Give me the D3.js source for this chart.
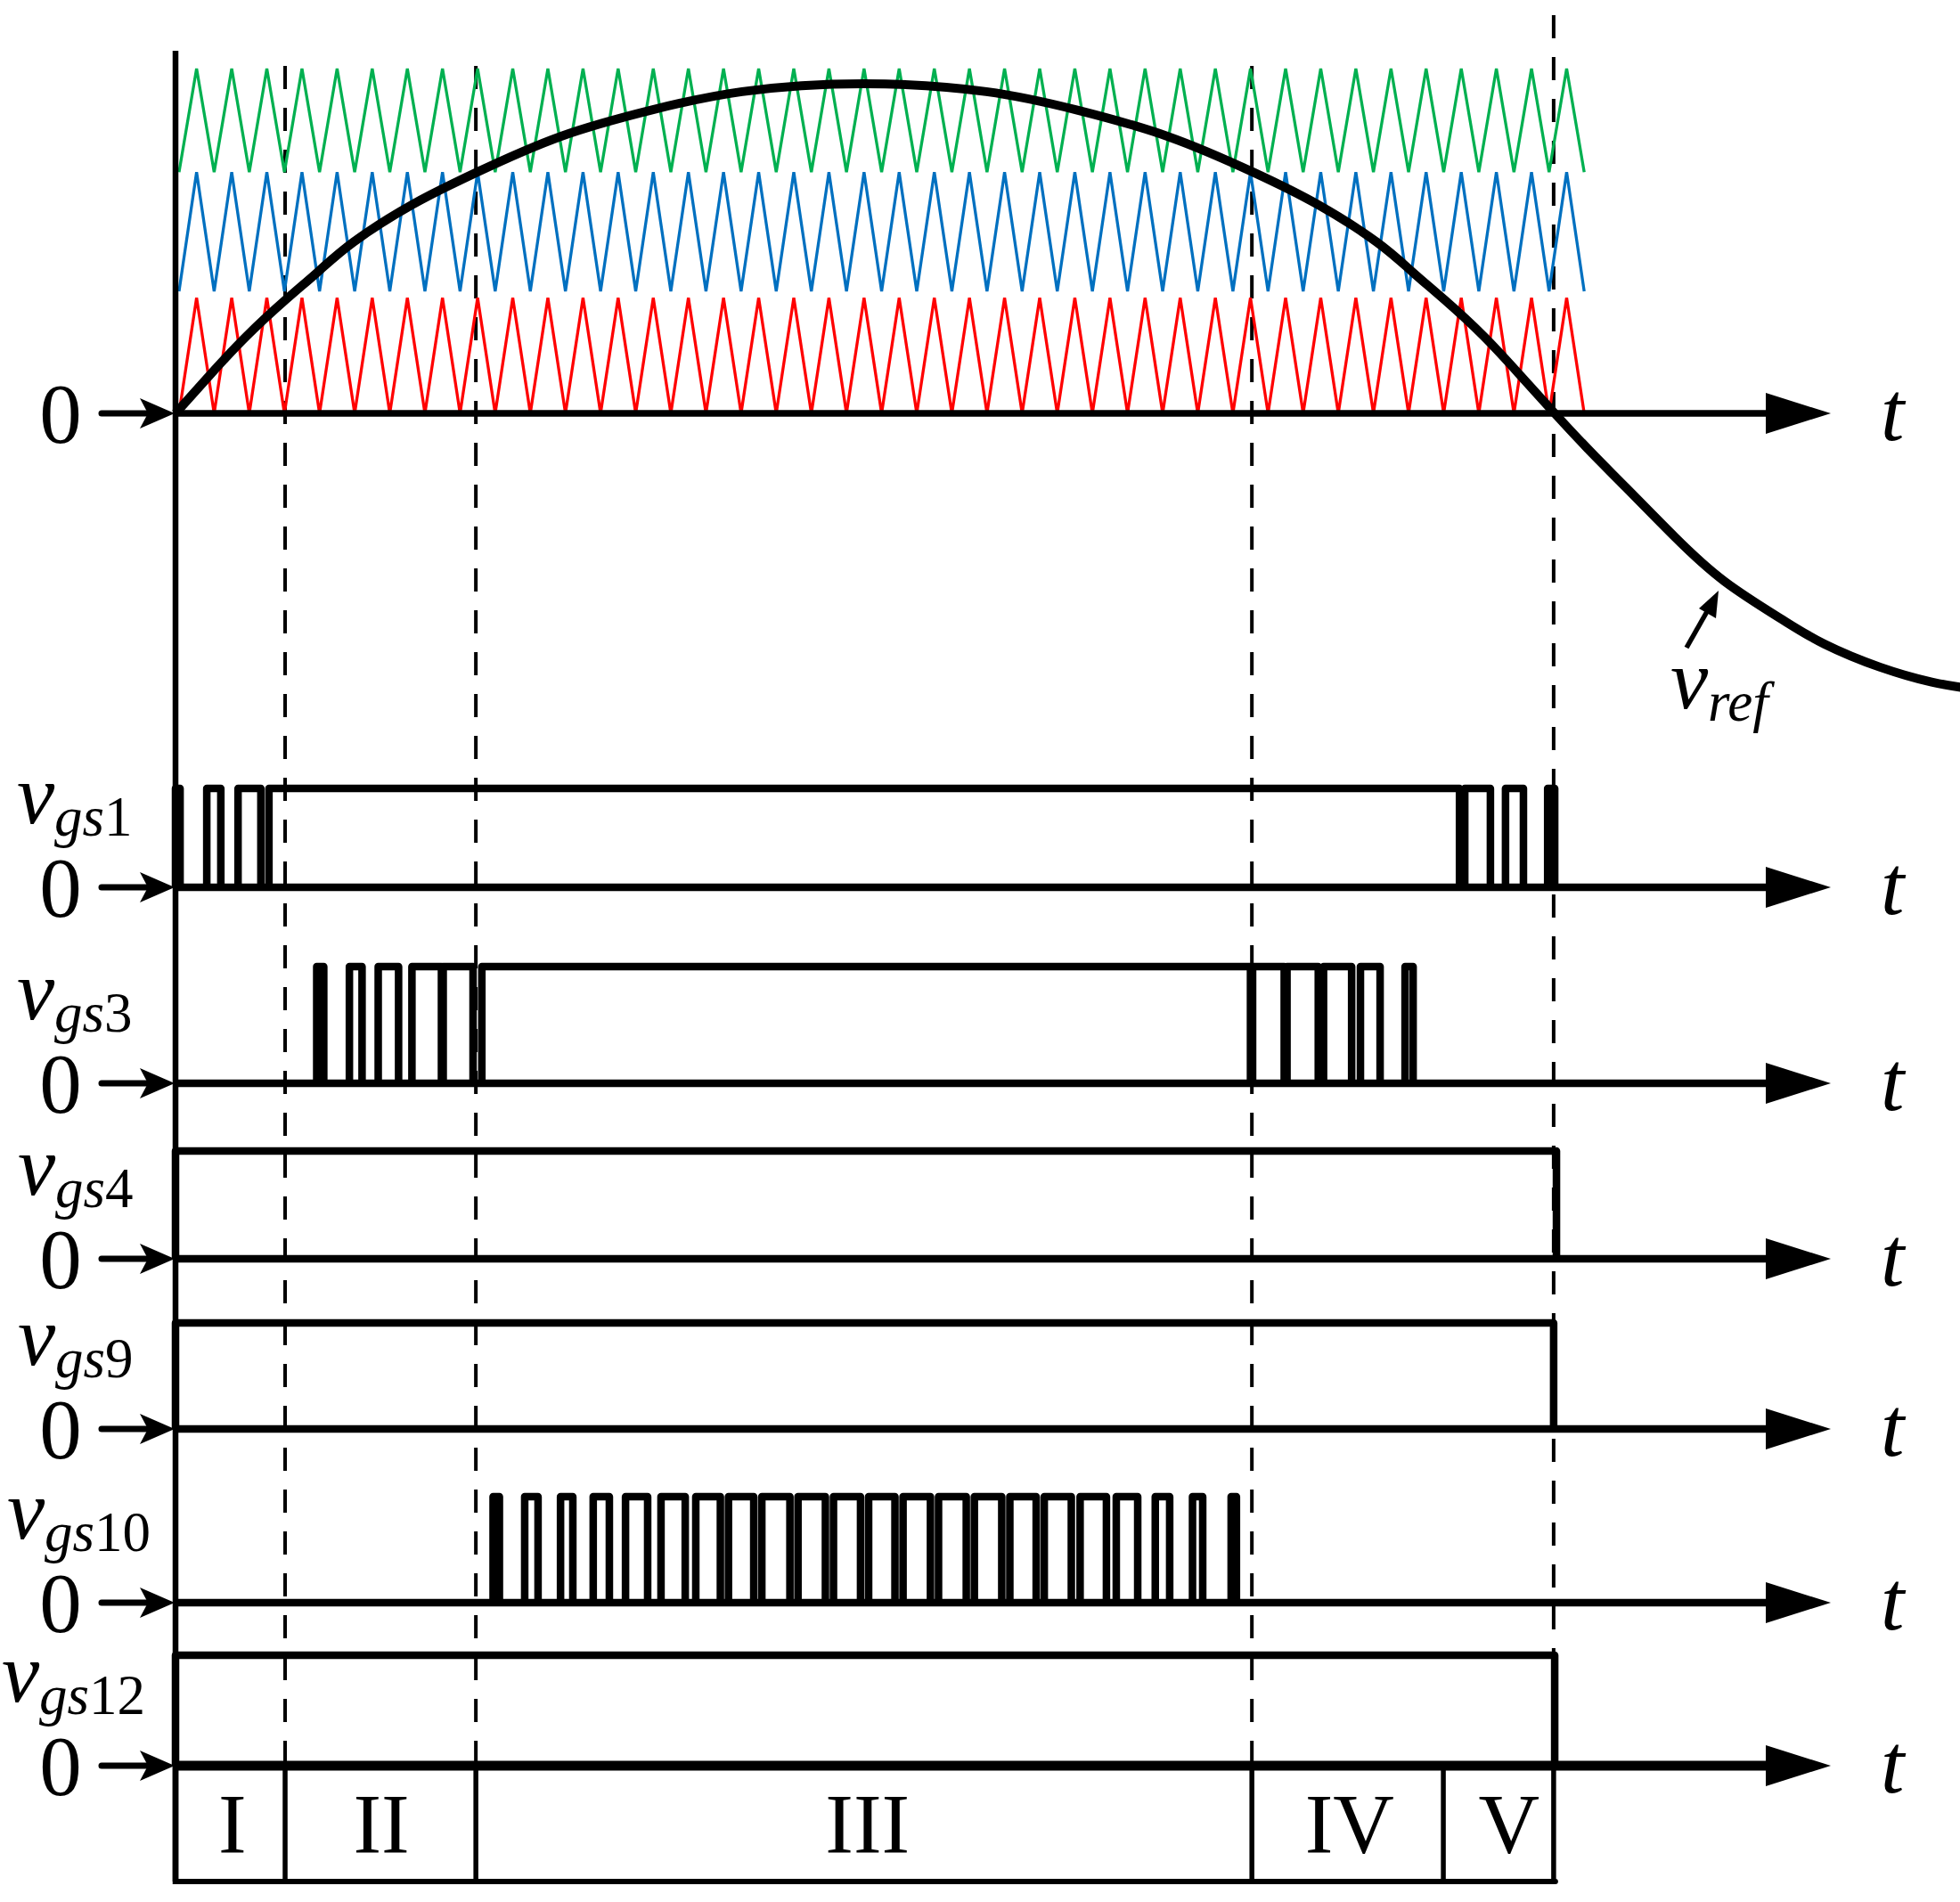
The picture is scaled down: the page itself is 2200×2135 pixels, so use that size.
<!DOCTYPE html>
<html><head><meta charset="utf-8">
<script src="https://cdn.jsdelivr.net/npm/d3@7/dist/d3.min.js"></script>
<style>body{margin:0;background:#fff}</style>
</head><body>
<svg id="chart" width="2200" height="2135"></svg>
<script>
// ---------------- data (time in carrier periods, levels normalised) ----------------
const carrierStart = 0.1;          // first trough of the carriers
const carrierPeriods = 40;
const carrierNames = ["red", "blue", "green"];
const carrierLow  = [0.0, 0.370, 0.732];
const carrierHigh = [0.351, 0.732, 1.046];

const vrefT = [0, 1.01, 2.03, 3.12, 4.06, 5.07, 6.72, 8.55, 10.96, 13.54, 16.13, 19.58,
               23.08, 25.67, 28.25, 30.71, 32.54, 34.19, 35.20, 36.14, 37.23, 38.24, 39.26,
               40.27, 41.29, 42.68, 44.10, 45.73, 46.94, 48.52, 49.99, 51.05];
const vrefV = [0, 0.12, 0.235, 0.343, 0.43, 0.52, 0.632, 0.73, 0.84, 0.92, 0.976, 1.0,
               0.976, 0.92, 0.84, 0.73, 0.632, 0.52, 0.43, 0.343, 0.235, 0.12, 0,
               -0.115, -0.225, -0.375, -0.51, -0.625, -0.70, -0.77, -0.815, -0.835];

const dashedT = [3.12, 8.55, 30.64, 39.23];
const regionNames = ["I", "II", "III", "IV", "V"];
const regionBounds = [0, 3.12, 8.55, 30.64, 36.09, 39.23];

const gateNames = ["1", "3", "4", "9", "10", "12"];
const vgs1On = [[0,0.13],[0.89,1.29],[1.78,2.43],[2.66,36.55],[36.70,37.43],[37.86,38.37],[39.06,39.26]];
const vgs3On = [[4.02,4.22],[4.95,5.31],[5.77,6.35],[6.73,7.57],[7.62,8.47],[8.72,30.60],
                [30.66,31.56],[31.64,32.53],[32.68,33.48],[33.73,34.29],[35.00,35.23]];
const vgs4On = [[0,39.31]];
const vgs9On = [[0,39.23]];
const vgs10On = [[9.04,9.22],[9.94,10.32],[10.96,11.31],[11.89,12.35],[12.81,13.44],[13.82,14.51],
                 [14.81,15.51],[15.74,16.46],[16.69,17.49],[17.72,18.50],[18.73,19.50],[19.73,20.48],
                 [20.71,21.49],[21.72,22.51],[22.74,23.52],[23.75,24.50],[24.73,25.50],[25.75,26.50],
                 [26.78,27.39],[27.89,28.30],[28.95,29.24],[30.05,30.20]];
const vgs12On = [[0,39.26]];
const gateOn = [vgs1On, vgs3On, vgs4On, vgs9On, vgs10On, vgs12On];

// ---------------- layout / style ----------------
const layout = {
  x0: 197, xEnd: 2055, tEnd: 47.12,
  topZero: 464, topOne: 94,
  gateZero: [996, 1216, 1413, 1604, 1799, 1982],
  gateHigh: [885, 1085, 1292, 1485, 1680, 1858],
  labelX: [19, 19, 20, 20, 8, 2],
  boxBottom: 2112
};
const colors = {red: "#FF0000", blue: "#0070C0", green: "#00B050"};
const FONT = "'Liberation Serif','Times New Roman',Times,serif";

const svg = d3.select("#chart");
svg.append("rect").attr("width", 2200).attr("height", 2135).attr("fill", "#fff");

const x = d3.scaleLinear().domain([0, layout.tEnd]).range([layout.x0, layout.xEnd]);
const yTop = d3.scaleLinear().domain([0, 1]).range([layout.topZero, layout.topOne]);

// ---------------- dashed region lines ----------------
const dashTop = [74, 74, 74, 17];
dashedT.forEach((t, i) => {
  svg.append("line").attr("x1", x(t)).attr("x2", x(t))
    .attr("y1", dashTop[i]).attr("y2", layout.gateZero[5])
    .attr("stroke", "#000").attr("stroke-width", 4).attr("stroke-dasharray", "26,21");
});

// ---------------- carriers ----------------
carrierNames.forEach((name, i) => {
  const pts = d3.range(0, 2 * carrierPeriods + 1).map(k =>
    [carrierStart + k / 2, k % 2 === 0 ? carrierLow[i] : carrierHigh[i]]);
  svg.append("path")
    .attr("d", d3.line().x(d => x(d[0])).y(d => yTop(d[1]))(pts))
    .attr("fill", "none").attr("stroke", colors[name]).attr("stroke-width", 3.3)
    .attr("stroke-linejoin", "miter");
});

// ---------------- axes helpers ----------------
function tAxis(y, w) {
  svg.append("line").attr("x1", layout.x0).attr("x2", 1990).attr("y1", y).attr("y2", y)
    .attr("stroke", "#000").attr("stroke-width", w);
  svg.append("path").attr("d", `M2055,${y} L1982,${y - 23} L1982,${y + 23} Z`).attr("fill", "#000");
  svg.append("text").attr("x", 2111).attr("y", y + 30).attr("font-family", FONT)
    .attr("font-size", 95).attr("font-style", "italic").text("t");
}
function zeroArrow(y) {
  svg.append("line").attr("x1", 114).attr("x2", 172).attr("y1", y).attr("y2", y)
    .attr("stroke", "#000").attr("stroke-width", 7).attr("stroke-linecap", "round");
  svg.append("path").attr("d", `M196,${y} L157,${y - 17} L166,${y} L157,${y + 17} Z`).attr("fill", "#000");
  svg.append("text").attr("x", 68).attr("y", y + 33).attr("text-anchor", "middle")
    .attr("font-family", FONT).attr("font-size", 95).text("0");
}

// top chart axis
tAxis(layout.topZero, 7.5);
zeroArrow(layout.topZero);

// ---------------- gate signals ----------------
gateNames.forEach((g, i) => {
  const y0 = layout.gateZero[i];
  const yg = d3.scaleLinear().domain([0, 1]).range([y0, layout.gateHigh[i]]);
  tAxis(y0, i === 5 ? 11 : 8.5);
  zeroArrow(y0);
  let d = "";
  gateOn[i].forEach(([a, b]) => {
    d += `M${x(a)},${yg(0)} L${x(a)},${yg(1)} L${x(b)},${yg(1)} L${x(b)},${yg(0)} `;
  });
  svg.append("path").attr("d", d).attr("fill", "none").attr("stroke", "#000")
    .attr("stroke-width", 8.5).attr("stroke-linejoin", "round");
  // label v_gsN
  const bl = y0 - 72;
  svg.append("text").attr("x", layout.labelX[i]).attr("y", bl).attr("font-family", FONT)
    .attr("font-size", 95).attr("font-style", "italic").text("v");
  const sub = svg.append("text").attr("x", layout.labelX[i] + 42).attr("y", bl + 14)
    .attr("font-family", FONT).attr("font-size", 63);
  sub.append("tspan").attr("font-style", "italic").text("gs");
  sub.append("tspan").text(g);
});

// ---------------- vertical axis ----------------
svg.append("line").attr("x1", layout.x0).attr("x2", layout.x0).attr("y1", 57).attr("y2", layout.boxBottom + 3)
  .attr("stroke", "#000").attr("stroke-width", 6.5);

// ---------------- region box ----------------
regionBounds.forEach(t => {
  svg.append("line").attr("x1", x(t)).attr("x2", x(t))
    .attr("y1", layout.gateZero[5]).attr("y2", layout.boxBottom)
    .attr("stroke", "#000").attr("stroke-width", t === 0 ? 6.5 : 5.5);
});
svg.append("line").attr("x1", x(0)).attr("x2", x(regionBounds[5]) + 2)
  .attr("y1", layout.boxBottom).attr("y2", layout.boxBottom)
  .attr("stroke", "#000").attr("stroke-width", 6).attr("stroke-linecap", "round");
const regionLabelT = [1.62, 5.86, 19.7, 33.42, 37.96];
regionNames.forEach((r, i) => {
  svg.append("text").attr("x", x(regionLabelT[i])).attr("y", 2080).attr("text-anchor", "middle")
    .attr("font-family", FONT).attr("font-size", 95).text(r);
});

// ---------------- reference sine ----------------
const vrefPts = vrefT.map((t, i) => [t, vrefV[i]]);
svg.append("path")
  .attr("d", d3.line().x(d => x(d[0])).y(d => yTop(d[1])).curve(d3.curveNatural)(vrefPts))
  .attr("fill", "none").attr("stroke", "#000").attr("stroke-width", 10);

// v_ref annotation
svg.append("line").attr("x1", 1893).attr("y1", 727).attr("x2", 1918).attr("y2", 683)
  .attr("stroke", "#000").attr("stroke-width", 5.5);
svg.append("path").attr("d", "M1929,663 L1926,694 L1907,683 Z").attr("fill", "#000");
svg.append("text").attr("x", 1875).attr("y", 795).attr("font-family", FONT)
  .attr("font-size", 95).attr("font-style", "italic").text("v");
svg.append("text").attr("x", 1917).attr("y", 809).attr("font-family", FONT)
  .attr("font-size", 63).attr("font-style", "italic").text("ref");
</script>
</body></html>
